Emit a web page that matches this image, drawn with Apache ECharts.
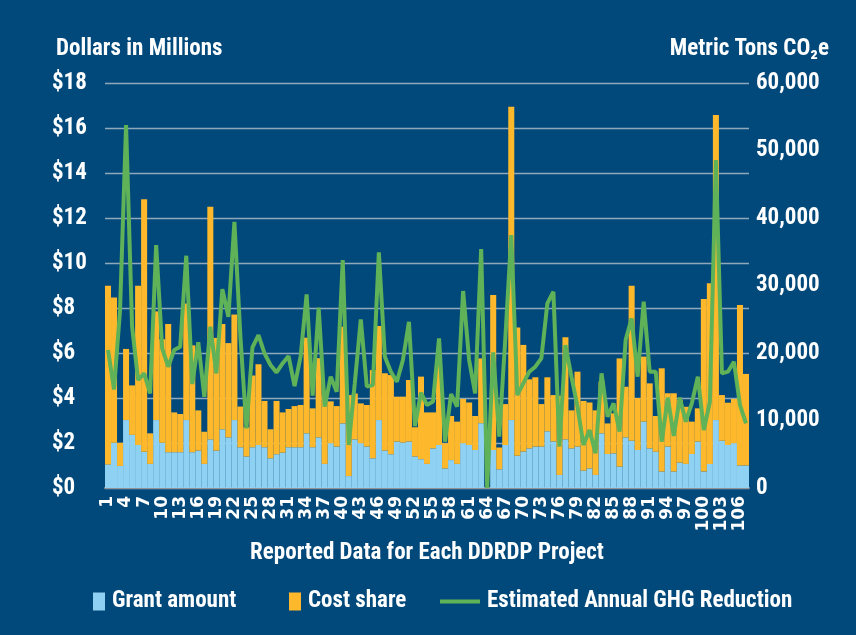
<!DOCTYPE html>
<html>
<head>
<meta charset="utf-8">
<title>DDRDP Project Data</title>
<script src="https://cdn.jsdelivr.net/npm/echarts@6/dist/echarts.min.js"></script>
<style>
  html, body { margin: 0; padding: 0; background: #02497b; }
  #chart { width: 856px; height: 635px; }
</style>
</head>
<body>
<div id="chart"></div>
<script>
// project numbers on the category axis
var projects = ['1','2','3','4','5','6','7','8','9','10','11','12','13','14','15','16','17','18','19','20',
  '21','22','23','24','25','26','27','28','29','30','31','32','33','34','35','36','37','38','39','40',
  '41','42','43','44','45','46','47','48','49','50','51','52','53','54','55','56','57','58','59','60',
  '61','62','63','64','65','66','67','68','69','70','71','72','73','74','75','76','77','78','79','80',
  '81','82','83','84','85','86','87','88','89','90','91','92','93','94','95','96','97','98','99','100',
  '101','102','103','104','105','106','107'];

// dollars in millions
var grantAmount = [1.05, 2.01, 0.98, 3.02, 2.36, 1.91, 1.61, 1.07, 3.02, 2.01,
  1.59, 1.59, 1.59, 3.02, 1.59, 1.66, 1.07, 2.16, 1.66, 2.61,
  2.25, 3.02, 1.81, 1.40, 1.81, 1.91, 1.81, 1.32, 1.50, 1.57,
  1.81, 1.81, 1.81, 2.43, 1.81, 2.25, 1.07, 1.99, 1.84, 2.87,
  0.53, 2.16, 1.99, 1.84, 1.32, 3.02, 1.66, 1.50, 2.06, 2.02,
  2.06, 1.40, 1.28, 1.07, 1.76, 1.91, 0.87, 1.24, 1.07, 1.99,
  1.91, 1.69, 2.88, 0, 1.69, 0.83, 1.91, 3.02, 1.43, 1.62,
  1.76, 1.84, 1.84, 2.52, 2.07, 0.58, 2.16, 1.76, 1.84, 0.77,
  0.87, 0.58, 2.43, 1.51, 1.54, 0.95, 2.25, 2.10, 1.69, 2.95,
  1.76, 1.61, 0.73, 1.84, 0.73, 1.13, 1.07, 1.51, 2.06, 0.73,
  1.07, 3.02, 2.10, 1.91, 1.99, 1.00, 1.00];

var costShare = [7.94, 6.46, 1.03, 3.16, 2.20, 7.08, 11.22, 1.36, 4.83, 4.60,
  5.70, 1.77, 1.70, 5.18, 4.75, 1.79, 1.43, 10.34, 5.01, 4.68,
  4.19, 4.69, 1.81, 1.30, 3.19, 3.59, 2.06, 1.29, 2.37, 1.79,
  1.70, 1.83, 1.88, 4.25, 1.73, 3.52, 3.06, 1.86, 1.80, 4.30,
  3.60, 2.04, 1.77, 1.85, 3.92, 4.18, 3.44, 3.52, 2.00, 2.04,
  2.74, 1.30, 3.67, 2.29, 1.60, 3.63, 1.12, 1.96, 1.88, 1.97,
  1.89, 1.51, 2.88, 0, 6.89, 0.97, 1.82, 13.93, 5.70, 4.74,
  3.07, 3.08, 1.89, 2.40, 2.06, 3.52, 4.54, 1.69, 3.33, 3.10,
  2.93, 2.87, 2.30, 1.36, 1.78, 4.81, 2.25, 6.89, 2.31, 2.89,
  2.89, 1.59, 4.59, 2.37, 3.48, 2.78, 2.54, 1.44, 1.48, 7.67,
  8.03, 13.56, 2.03, 1.88, 1.97, 7.13, 4.07];

// metric tons CO2e
var ghgReduction = [20440, 14610, 26360, 53760, 23890, 16000, 16980, 14020, 35990, 20690,
  17970, 20440, 20930, 34410, 15400, 21580, 13520, 23890, 16980, 29470,
  25370, 39440, 22400, 8840, 20830, 22660, 19940, 18220, 17130, 18460,
  19550, 15110, 19450, 28680, 13670, 26710, 12050, 16490, 14270, 33770,
  6370, 15500, 24980, 15010, 15250, 34900, 19450, 17230, 15750, 18960,
  24630, 9180, 14120, 12290, 12800, 22160, 6860, 13920, 12040, 29180,
  18960, 14020, 35400, 0, 20100, 7600, 22000, 37470, 13770, 15500,
  17230, 17970, 19210, 27350, 29080, 6120, 21180, 16490, 12040, 6370,
  8590, 5130, 16980, 10560, 12540, 8340, 21920, 25130, 16490, 27600,
  17230, 17230, 6860, 13380, 7710, 13380, 9820, 12550, 16490, 8590,
  12780, 48580, 16980, 17230, 18710, 12290, 9590];

var FONT = "'Liberation Sans Narrow', 'Roboto Condensed', 'DejaVu Sans Condensed', sans-serif";
var WHITE = '#ffffff';

function buildText(size, family) {
  return {
    color: WHITE,
    fontFamily: family || FONT,
    fontWeight: 'bold',
    fontSize: size
  };
}

function buildLegend(name, left, width, height) {
  return {
    data: [{ name: name, icon: 'rect' }],
    left: left,
    top: 585,
    itemWidth: width,
    itemHeight: height,
    textStyle: Object.assign(buildText(23), { padding: [0, 0, 0, 2] })
  };
}

function formatTons(v) {
  return v.toLocaleString('en-US');
}

var chart = echarts.init(document.getElementById('chart'));

chart.setOption({
  backgroundColor: '#02497b',
  animation: false,
  title: [
    { text: 'Dollars in Millions', left: 51, top: 33, textStyle: buildText(23) },
    { text: 'Metric Tons CO₂e', right: 22, top: 33, textStyle: buildText(23) }
  ],
  legend: [
    buildLegend('Grant amount', 88, 12, 18),
    buildLegend('Cost share', 284, 12, 18),
    buildLegend('Estimated Annual GHG Reduction', 435, 40, 4)
  ],
  grid: {
    left: 105,
    right: 107,
    top: 83,
    bottom: 147,
    containLabel: false
  },
  xAxis: {
    type: 'category',
    data: projects,
    name: 'Reported Data for Each DDRDP Project',
    nameLocation: 'middle',
    nameGap: 54,
    nameTextStyle: buildText(23),
    axisLine: { lineStyle: { color: '#8e9398', width: 2 } },
    axisTick: { show: false },
    axisLabel: Object.assign(buildText(17, "'DejaVu Sans', sans-serif"), { interval: 2, rotate: 90, margin: 8 })
  },
  yAxis: [
    {
      type: 'value',
      min: 0,
      max: 18,
      interval: 2,
      axisLine: { show: false },
      axisTick: { show: false },
      splitLine: { lineStyle: { color: 'rgba(190, 200, 210, 0.75)', width: 1.3 } },
      axisLabel: Object.assign(buildText(23), {
        align: 'left',
        margin: 53,
        formatter: function (v) { return '$' + v; }
      })
    },
    {
      type: 'value',
      min: 0,
      max: 60000,
      interval: 10000,
      axisLine: { show: false },
      axisTick: { show: false },
      splitLine: { show: false },
      axisLabel: Object.assign(buildText(23), {
        align: 'left',
        margin: 7,
        formatter: formatTons
      })
    }
  ],
  series: [
    {
      name: 'Grant amount',
      type: 'bar',
      stack: 'dollars',
      data: grantAmount,
      barCategoryGap: '0%',
      itemStyle: { color: '#8fd1f2' }
    },
    {
      name: 'Cost share',
      type: 'bar',
      stack: 'dollars',
      data: costShare,
      barCategoryGap: '0%',
      itemStyle: { color: '#fdb82c' }
    },
    {
      name: 'Estimated Annual GHG Reduction',
      type: 'line',
      yAxisIndex: 1,
      data: ghgReduction,
      symbol: 'none',
      z: 5,
      lineStyle: { color: '#5fb257', width: 4 },
      itemStyle: { color: '#5fb257' }
    }
  ]
});
</script>
</body>
</html>
